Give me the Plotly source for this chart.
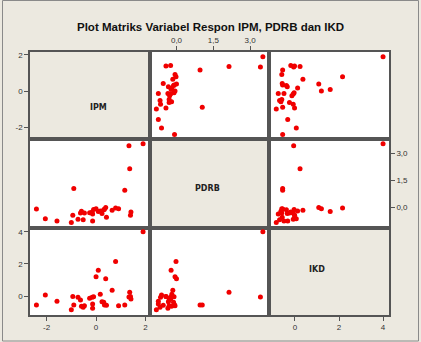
import plotly.graph_objects as go

W, H = 421, 342

# ---- data (standardised values) ----
IPM = [-2.41, -2.05, -1.58, -1.00, -0.94, -0.90, -0.73, -0.63, -0.59, -0.52, -0.47,
       -0.26, -0.16, -0.10, -0.14, -0.14, 0.00, 0.09, 0.17, 0.24, 0.31, 0.34, 0.39,
       0.42, 0.65, 0.79, 0.91, 1.16, 1.33, 1.36, 1.39, 1.41, 1.90]
PDRB = [-0.08, -0.61, -0.74, -0.82, -0.43, 1.05, -0.65, -0.30, -0.20, -0.67, -0.30,
        -0.28, -0.24, -0.10, -0.74, -0.35, -0.06, -0.22, -0.19, -0.33, -0.12, -0.09, 0.00,
        -0.54, -0.15, -0.02, -0.06, 0.96, 3.42, 2.14, -0.43, -0.24, 3.52]
IKD = [-0.56, 0.06, -0.33, -0.85, -0.02, -0.56, -0.08, -0.25, -0.64, -0.70, -0.60,
       -0.14, -0.08, -0.04, -0.50, -0.76, 1.20, 1.60, 0.12, -0.35, -0.39, -0.56, 1.08,
       -0.58, 0.36, 2.16, -0.60, -0.56, -0.06, 0.23, -0.02, -0.19, 4.00]

variables = ["IPM", "PDRB", "IKD"]
values = {"IPM": IPM, "PDRB": PDRB, "IKD": IKD}
tick_values = {"IPM": [-2, 0, 2], "PDRB": [0, 1.5, 3.0], "IKD": [0, 2, 4]}
tick_labels = {"IPM": ["-2", "0", "2"], "PDRB": ["0,0", "1,5", "3,0"], "IKD": ["0", "2", "4"]}
title_text = "Plot Matriks Variabel Respon IPM, PDRB dan IKD"

# ---- layout geometry (pixels) ----
ranges = {"IPM": [-2.67, 2.16], "PDRB": [-1.1, 3.77], "IKD": [-1.18, 4.27]}
xcols = [30, 149.5, 269, 389]
yrows = [52, 139.3, 227.5, 315]
BG = "#ECE9E0"
LINE = "#555555"
TXT = "#333333"
tickfont = dict(family="Liberation Sans, Arial", size=8, color=TXT)

def px(x):
    return x / W

def py(y):
    return 1 - y / H

# which panels carry ticks
xtick_side = {(0, 1): "top", (2, 0): "bottom", (2, 2): "bottom"}
ytick_side = {(0, 0): "left", (1, 2): "right", (2, 0): "left"}

fig = go.Figure()
layout = dict(
    width=W, height=H,
    margin=dict(l=0, r=0, t=0, b=0),
    paper_bgcolor=BG, plot_bgcolor="rgba(0,0,0,0)",
    showlegend=False,
    shapes=[], annotations=[],
)

for r in range(3):
    for c in range(3):
        k = r * 3 + c + 1
        xs = "" if k == 1 else str(k)
        xn, yn = variables[c], variables[r]
        xa = dict(domain=[px(xcols[c]), px(xcols[c + 1])], range=ranges[xn],
                  anchor="y" + xs, showgrid=False, zeroline=False,
                  showline=True, mirror=True, linecolor=LINE, linewidth=1.6,
                  fixedrange=True)
        ya = dict(domain=[py(yrows[r + 1]), py(yrows[r])], range=ranges[yn],
                  anchor="x" + xs, showgrid=False, zeroline=False,
                  showline=True, mirror=True, linecolor=LINE, linewidth=1.6,
                  fixedrange=True)
        if (r, c) in xtick_side:
            xa.update(side=xtick_side[(r, c)], ticks="outside", ticklen=4, tickwidth=1,
                      tickcolor=LINE, tickvals=tick_values[xn], ticktext=tick_labels[xn],
                      tickfont=tickfont, showticklabels=True)
        else:
            xa.update(showticklabels=False, ticks="")
        if (r, c) in ytick_side:
            ya.update(side=ytick_side[(r, c)], ticks="outside", ticklen=4, tickwidth=1,
                      tickcolor=LINE, tickvals=tick_values[yn], ticktext=tick_labels[yn],
                      tickfont=tickfont, showticklabels=True)
        else:
            ya.update(showticklabels=False, ticks="")
        layout["xaxis" + xs] = xa
        layout["yaxis" + xs] = ya

        if r == c:
            # empty trace so the diagonal panel (and its frame) is drawn
            fig.add_trace(go.Scatter(x=[None], y=[None], mode="markers",
                                     xaxis="x" + xs, yaxis="y" + xs, hoverinfo="skip"))
            cx = (xcols[c] + xcols[c + 1]) / 2 - 2
            cy = (yrows[r] + yrows[r + 1]) / 2 + 5
            layout["annotations"].append(dict(
                x=px(cx), y=py(cy), xref="paper", yref="paper", text="<b>%s</b>" % xn,
                showarrow=False, font=dict(family="DejaVu Sans, Verdana", size=8, color="#222")))
        else:
            layout["shapes"].append(dict(
                type="rect", xref="paper", yref="paper", layer="below",
                x0=px(xcols[c]), x1=px(xcols[c + 1]), y0=py(yrows[r + 1]), y1=py(yrows[r]),
                fillcolor="white", line=dict(width=0)))
            fig.add_trace(go.Scatter(
                x=values[xn], y=values[yn], mode="markers",
                xaxis="x" + xs, yaxis="y" + xs, hoverinfo="skip",
                marker=dict(color="#F00000", size=5, line=dict(width=0))))

# title
layout["annotations"].append(dict(
    x=px(210.7), y=py(18.5), xref="paper", yref="paper", text="<b>%s</b>" % title_text,
    showarrow=False, font=dict(family="Liberation Sans, Arial", size=11.5, color="#111")))

# outer frame
layout["shapes"].append(dict(type="rect", xref="paper", yref="paper", layer="above",
                             x0=px(2.5), x1=px(418.5), y0=py(341), y1=py(0.5),
                             line=dict(color="#8a8a8a", width=1)))

fig.update_layout(**layout)
fig.write_html("out.html")
